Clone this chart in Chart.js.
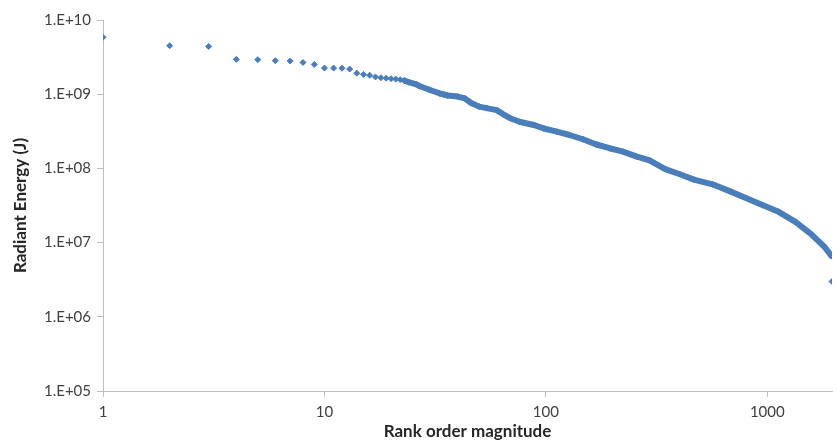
<!DOCTYPE html>
<html>
<head>
<meta charset="utf-8">
<script src="https://cdn.jsdelivr.net/npm/chart.js@4"></script>
<style>
  body { margin: 0; background: #fff; }
</style>
</head>
<body>
<canvas id="rankChart" width="837" height="440"></canvas>
<script>
// rank order of each event (x) and its radiant energy in J (y)
const ranks = [1, 2, 3, 4, 5, 6, 7, 8, 9, 10, 11, 12, 13, 14, 15, 16, 17, 18, 19, 20,
  21, 22, 23, 24, 26, 27, 30, 33, 36, 40, 43, 46, 50, 54, 60, 64, 69, 76, 88, 98,
  112, 128, 147, 169, 194, 223, 256, 294, 346, 400, 470, 566, 680, 800, 950, 1125,
  1340, 1578, 1810, 1950, 1960];
const energies = [5.85e9, 4.5e9, 4.4e9, 2.95e9, 2.92e9, 2.83e9, 2.8e9, 2.68e9, 2.52e9, 2.25e9,
  2.25e9, 2.24e9, 2.18e9, 1.92e9, 1.85e9, 1.8e9, 1.71e9, 1.67e9, 1.64e9, 1.62e9,
  1.6e9, 1.57e9, 1.53e9, 1.45e9, 1.36e9, 1.28e9, 1.14e9, 1.03e9, 9.6e8, 9.3e8,
  8.8e8, 7.6e8, 6.8e8, 6.5e8, 6.1e8, 5.4e8, 4.75e8, 4.25e8, 3.85e8, 3.45e8,
  3.13e8, 2.82e8, 2.47e8, 2.1e8, 1.87e8, 1.68e8, 1.45e8, 1.28e8, 9.8e7, 8.4e7,
  7.0e7, 6.1e7, 4.9e7, 4.0e7, 3.2e7, 2.6e7, 1.9e7, 1.3e7, 8.8e6, 6.6e6, 3.0e6];

const xTicks = [1, 10, 100, 1000];
const yTicks = [1e5, 1e6, 1e7, 1e8, 1e9, 1e10];
const yTickLabels = ['1.E+05', '1.E+06', '1.E+07', '1.E+08', '1.E+09', '1.E+10'];

const blue = '#4A7EBB';
const axisGray = '#BFBFBF';
const textGray = '#404040';
const titleGray = '#262626';

const points = ranks.map((r, i) => ({ x: r, y: energies[i] }));
// from rank ~24 on the markers overlap into a solid band
const band = points.filter(p => p.x >= 23 && p.x <= 1950);

new Chart(document.getElementById('rankChart'), {
  type: 'scatter',
  data: {
    datasets: [
      {
        data: points,
        pointStyle: 'rectRot',
        pointRadius: 3,
        borderWidth: 1,
        borderColor: blue,
        backgroundColor: blue,
        showLine: false,
      },
      {
        data: band,
        showLine: true,
        pointRadius: 0,
        borderWidth: 6,
        borderColor: blue,
        borderJoinStyle: 'round',
        borderCapStyle: 'round',
        backgroundColor: blue,
      },
    ],
  },
  options: {
    responsive: false,
    animation: false,
    layout: { padding: { top: 20, right: 0, left: 0, bottom: 0 } },
    scales: {
      x: {
        type: 'logarithmic',
        min: 1,
        max: 1960,
        afterBuildTicks: (scale) => { scale.ticks = xTicks.map(v => ({ value: v })); },
        afterFit: (scale) => { scale.height = 49; },
        ticks: {
          autoSkip: false,
          maxRotation: 0,
          padding: 6,
          color: textGray,
          font: { family: 'Lato', size: 15 },
          callback: (v) => String(v),
        },
        grid: { drawOnChartArea: false, tickLength: 6, color: axisGray },
        border: { color: axisGray, width: 1 },
        title: {
          display: true,
          text: 'Rank order magnitude',
          color: titleGray,
          font: { family: 'Lato', size: 17, weight: 'bold' },
          padding: { top: 0, bottom: -2 },
        },
      },
      y: {
        type: 'logarithmic',
        min: 1e5,
        max: 1e10,
        afterBuildTicks: (scale) => { scale.ticks = yTicks.map(v => ({ value: v })); },
        afterFit: (scale) => { scale.width = 103; },
        ticks: {
          autoSkip: false,
          padding: 6,
          color: textGray,
          font: { family: 'Lato', size: 15 },
          callback: (v) => yTickLabels[yTicks.indexOf(v)],
        },
        grid: { drawOnChartArea: false, tickLength: 6, color: axisGray },
        border: { color: axisGray, width: 1 },
        title: {
          display: true,
          text: 'Radiant Energy (J)',
          color: titleGray,
          font: { family: 'Lato', size: 17, weight: 'bold' },
          padding: { top: 10, bottom: 0 },
        },
      },
    },
    plugins: {
      legend: { display: false },
      tooltip: { enabled: false },
    },
  },
});
</script>
</body>
</html>
